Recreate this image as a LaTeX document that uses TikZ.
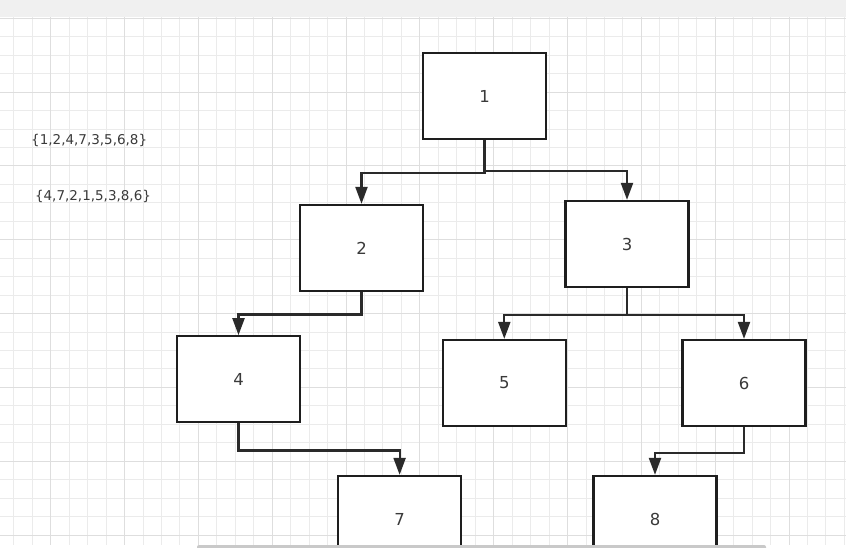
\documentclass[tikz,border=0pt]{standalone}
\usepackage{fontspec}
\setmainfont{DejaVu Sans}
\usetikzlibrary{arrows.meta}
\definecolor{minorgrid}{HTML}{EBEBEB}
\definecolor{majorgrid}{HTML}{DEDEDE}
\definecolor{topbar}{HTML}{F0F0F0}
\definecolor{txt}{HTML}{3A3A3A}
\definecolor{edge}{HTML}{1E1E1E}
\definecolor{conncol}{HTML}{2A2A2A}
\definecolor{scroll}{HTML}{C9C9C9}
\tikzset{
  minorline/.style={draw=minorgrid, line width=1pt},
  majorline/.style={draw=majorgrid, line width=1pt},
  treebox/.style={draw=edge, fill=white, line width=2.3pt, minimum width=123pt, minimum height=86pt, inner sep=0pt, text=txt, font=\fontsize{16.5}{19}\selectfont},
  sidetext/.style={text=txt, inner sep=0pt, font=\fontsize{13.5}{16}\selectfont},
  conn/.style={draw=conncol, line width=2.2pt, -{Triangle[length=17pt,width=12pt]}},
}
\begin{document}
\begin{tikzpicture}[x=1pt,y=-1pt]
\useasboundingbox (0,0) rectangle (846,548);
\clip (0,0) rectangle (846,548);
\fill[white] (0,0) rectangle (846,548);
% grid
\foreach \i in {0,...,48} {\draw[minorline] ({-23.1+18.4575*\i},17.5) -- ({-23.1+18.4575*\i},545);}
\foreach \i in {0,...,29} {\draw[minorline] (0,{18.3+18.4575*\i}) -- (846,{18.3+18.4575*\i});}
\foreach \i in {0,...,12} {\draw[majorline] ({-23.1+73.83*\i},17.5) -- ({-23.1+73.83*\i},545);}
\foreach \i in {0,...,7} {\draw[majorline] (0,{18.3+73.83*\i}) -- (846,{18.3+73.83*\i});}
\fill[topbar] (0,0) rectangle (846,17.5);
% texts
\node[sidetext] (pre) at (89.2,140) {\{1,2,4,7,3,5,6,8\}};
\node[sidetext] (ino) at (93,196.7) {\{4,7,2,1,5,3,8,6\}};
% boxes
\node[treebox] (b1) at (484.5,96) {1};
\node[treebox] (b2) at (361.5,248) {2};
\node[treebox] (b3) at (627,244) {3};
\node[treebox] (b4) at (238.5,379.3) {4};
\node[treebox] (b5) at (504.3,383) {5};
\node[treebox] (b6) at (744,383) {6};
\node[treebox] (b7) at (399.6,519) {7};
\node[treebox] (b8) at (655,519) {8};
% connectors
\draw[conn] (b1.south) -- ++(0,32.5) -| (b2.north);
\draw[conn] (b1.south) -- ++(0,31) -| (b3.north);
\draw[conn] (b2.south) -- ++(0,22.3) -| (b4.north);
\draw[conn] (b3.south) -- ++(0,26.5) -| (b5.north);
\draw[conn] (b3.south) -- ++(0,26.5) -| (b6.north);
\draw[conn] (b4.south) -- ++(0,27) -| (b7.north);
\draw[conn] (b6.south) -- ++(0,26) -| (b8.north);
% bottom strip with scrollbar
\fill[white] (0,544.5) rectangle (846,548);
\fill[scroll, rounded corners=2pt] (197,545) rectangle (766,552);
\end{tikzpicture}
\end{document}
